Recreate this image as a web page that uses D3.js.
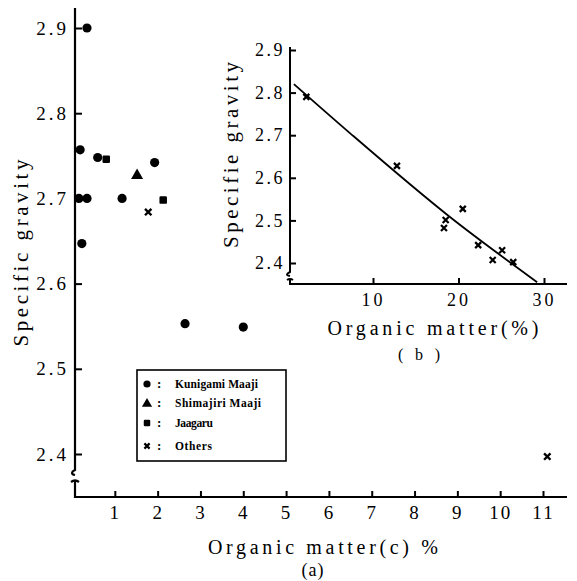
<!DOCTYPE html>
<html><head><meta charset="utf-8">
<script src="https://cdn.jsdelivr.net/npm/d3@7"></script>
<style>
html,body{margin:0;padding:0;background:#fff;}
svg{display:block;}
</style></head>
<body><svg id="c" width="577" height="581"></svg>
<script>
// ---- Data (a) main panel ----
const kunigamiX = [0.35, 0.19, 0.16, 0.35, 0.23, 0.60, 1.17, 1.93, 2.64, 4.00];
const kunigamiY = [2.900, 2.757, 2.700, 2.700, 2.647, 2.748, 2.700, 2.742, 2.553, 2.549];
const shimajiriX = [1.52];
const shimajiriY = [2.728];
const jaagaruX = [0.80, 2.13];
const jaagaruY = [2.746, 2.698];
const othersX = [1.78, 11.10];
const othersY = [2.684, 2.397];
const mainXTicks = [1,2,3,4,5,6,7,8,9,10,11];
const mainYTicks = [2.4,2.5,2.6,2.7,2.8,2.9];
const legendLabels = ["Kunigami  Maaji","Shimajiri  Maaji","Jaagaru","Others"];
// ---- Data (b) inset ----
const insetX = [2.2, 12.8, 18.3, 18.5, 20.5, 22.3, 24.0, 25.1, 26.4];
const insetY = [2.790, 2.628, 2.482, 2.501, 2.527, 2.442, 2.407, 2.430, 2.402];
const fitX = [0.75, 7.3, 19.0, 29.2];
const fitY = [2.820, 2.705, 2.508, 2.355];
const insetXTicks = [10,20,30];
const insetYTicks = [2.4,2.5,2.6,2.7,2.8,2.9];

const SERIF = "'Liberation Serif','Times New Roman',Times,'DejaVu Serif','Noto Serif',serif";
const svg = d3.select("#c");
const fmt = d3.format(".1f");

function serif(sel){ return sel.attr("font-family",null).style("font-family",SERIF).style("fill","#000"); }

// ---------- main panel ----------
const x = d3.scaleLinear().domain([0,11]).range([72,543]);
const y = d3.scaleLinear().domain([2.4,2.9]).range([454,28]);
const AX = 75, AY = 497;

const yAx = svg.append("g").attr("transform",`translate(${AX},0)`)
  .call(d3.axisLeft(y).tickValues(mainYTicks).tickFormat(fmt).tickSizeInner(-7).tickSizeOuter(0).tickPadding(4));
yAx.attr("font-family",null);
yAx.select(".domain").remove();
yAx.selectAll("line").attr("stroke","#000").attr("stroke-width",2);
serif(yAx.selectAll("text")).attr("font-size",19).style("letter-spacing","3px").attr("dx",-2);

const xAx = svg.append("g").attr("transform",`translate(0,${AY})`)
  .call(d3.axisBottom(x).tickValues(mainXTicks).tickFormat(d3.format("d")).tickSizeInner(-6).tickSizeOuter(0).tickPadding(9));
xAx.attr("font-family",null);
xAx.select(".domain").remove();
xAx.selectAll("line").attr("stroke","#000").attr("stroke-width",2);
serif(xAx.selectAll("text")).attr("font-size",19).style("letter-spacing","2px");

// axis lines with break
svg.append("path").attr("d",`M${AX},8 L${AX},470 c-4,2 -4,4 0,5`).attr("fill","none").attr("stroke","#000").attr("stroke-width",2.2);
svg.append("path").attr("d",`M${AX-4},482 q4,-3 8,0 M${AX},481 L${AX},${AY} L567,${AY}`).attr("fill","none").attr("stroke","#000").attr("stroke-width",2.2);

// titles
serif(svg.append("text")).attr("x",323).attr("y",554).attr("text-anchor","middle").attr("font-size",20)
  .attr("textLength",230).attr("lengthAdjust","spacing").text("Organic matter(c) %");
serif(svg.append("text")).attr("x",313).attr("y",576).attr("text-anchor","middle").attr("font-size",18)
  .style("letter-spacing","1px").text("(a)");
serif(svg.append("text")).attr("transform","translate(28,253) rotate(-90)").attr("text-anchor","middle").attr("font-size",21)
  .attr("textLength",187).attr("lengthAdjust","spacing").text("Specific gravity");

// marker generators
function drawCircle(g,cx,cy,r){g.append("circle").attr("cx",cx).attr("cy",cy).attr("r",r).attr("fill","#000");}
function drawTri(g,cx,cy,s){g.append("path").attr("d",`M${cx},${cy-s*0.6} L${cx+s*0.6},${cy+s*0.45} L${cx-s*0.6},${cy+s*0.45}Z`).attr("fill","#000");}
function drawSq(g,cx,cy,s){g.append("rect").attr("x",cx-s/2).attr("y",cy-s/2).attr("width",s).attr("height",s).attr("rx",1.2).attr("fill","#000");}
function drawX(g,cx,cy,s,w){g.append("path").attr("d",`M${cx-s},${cy-s} L${cx+s},${cy+s} M${cx-s},${cy+s} L${cx+s},${cy-s}`).attr("stroke","#000").attr("stroke-width",w).attr("fill","none");}

const pts = svg.append("g");
kunigamiX.forEach((v,i)=>drawCircle(pts,x(v),y(kunigamiY[i]),4.6));
shimajiriX.forEach((v,i)=>drawTri(pts,x(v),y(shimajiriY[i]),10));
jaagaruX.forEach((v,i)=>drawSq(pts,x(v),y(jaagaruY[i]),7.5));
othersX.forEach((v,i)=>drawX(pts,x(v),y(othersY[i]),3.2,2.4));

// legend
const lg = svg.append("g");
lg.append("rect").attr("x",137).attr("y",370).attr("width",149).attr("height",91).attr("fill","#fff").attr("stroke","#000").attr("stroke-width",1.6);
const rowY = [384,403,423,446];
const lsym = [
  (cx,cy)=>drawCircle(lg,cx,cy,3.6),
  (cx,cy)=>drawTri(lg,cx,cy,8.5),
  (cx,cy)=>drawSq(lg,cx,cy,6.5),
  (cx,cy)=>drawX(lg,cx,cy,2.6,2.2)
];
const lWidths = [83,86,38,37];
legendLabels.forEach((t,i)=>{
  lsym[i](147,rowY[i]);
  serif(lg.append("text")).attr("x",157).attr("y",rowY[i]+4).attr("font-size",13).attr("font-weight","bold").text(":");
  serif(lg.append("text")).attr("x",175).attr("y",rowY[i]+4).attr("font-size",11.5).style("font-weight","600")
    .attr("textLength",lWidths[i]).attr("lengthAdjust","spacing").text(t);
});

// ---------- inset (b) ----------
const xi = d3.scaleLinear().domain([0,30]).range([287.5,544]);
const yi = d3.scaleLinear().domain([2.4,2.9]).range([263,50]);
const BX = 290, BY = 284;

const yiAx = svg.append("g").attr("transform",`translate(${BX},0)`)
  .call(d3.axisLeft(yi).tickValues(insetYTicks).tickFormat(fmt).tickSizeInner(-6).tickSizeOuter(0).tickPadding(4));
yiAx.attr("font-family",null);
yiAx.select(".domain").remove();
yiAx.selectAll("line").attr("stroke","#000").attr("stroke-width",2);
serif(yiAx.selectAll("text")).attr("font-size",18).style("letter-spacing","2.5px").attr("dx",-1);

const xiAx = svg.append("g").attr("transform",`translate(0,${BY})`)
  .call(d3.axisBottom(xi).tickValues(insetXTicks).tickFormat(d3.format("d")).tickSizeInner(-6).tickSizeOuter(0).tickPadding(9));
xiAx.attr("font-family",null);
xiAx.select(".domain").remove();
xiAx.selectAll("line").attr("stroke","#000").attr("stroke-width",2);
serif(xiAx.selectAll("text")).attr("font-size",18).style("letter-spacing","3px");

svg.append("path").attr("d",`M${BX},47 L${BX},272 c-4,2 -4,3 0,4`).attr("fill","none").attr("stroke","#000").attr("stroke-width",2);
svg.append("path").attr("d",`M${BX-3},280 q3,-2 6,0 M${BX},279 L${BX},${BY} L567,${BY}`).attr("fill","none").attr("stroke","#000").attr("stroke-width",2);

serif(svg.append("text")).attr("x",433).attr("y",335).attr("text-anchor","middle").attr("font-size",20)
  .attr("textLength",211).attr("lengthAdjust","spacing").text("Organic matter(%)");
serif(svg.append("text")).attr("x",419).attr("y",360).attr("text-anchor","middle").attr("font-size",16)
  .attr("textLength",42).attr("lengthAdjust","spacing").text("( b )");
serif(svg.append("text")).attr("transform","translate(238,155) rotate(-90)").attr("text-anchor","middle").attr("font-size",21)
  .attr("textLength",186).attr("lengthAdjust","spacing").text("Specifie gravity");

// fit line
svg.append("path").datum(fitX.map((v,i)=>[v,fitY[i]]))
  .attr("d",d3.line().x(d=>xi(d[0])).y(d=>yi(d[1])).curve(d3.curveMonotoneX))
  .attr("fill","none").attr("stroke","#000").attr("stroke-width",1.8);

const ipts = svg.append("g");
insetX.forEach((v,i)=>drawX(ipts,xi(v),yi(insetY[i]),3,2.2));
</script></body></html>
